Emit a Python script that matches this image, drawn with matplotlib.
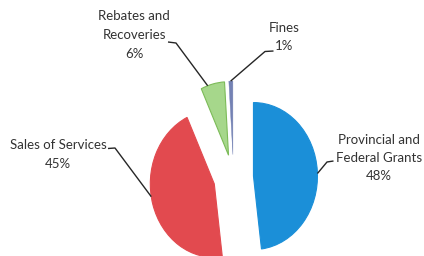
import matplotlib
matplotlib.use("Agg")
import matplotlib.pyplot as plt
import numpy as np

# data
labels = ["Provincial and\nFederal Grants\n48%", "Sales of Services\n45%",
          "Rebates and\nRecoveries\n6%", "Fines\n1%"]
shares = [48, 45, 6, 1]
colors = ["#1b8fd8", "#e24a4f", "#a6d78b", "#7482b4"]
edges = ["#1b8fd8", "#e24a4f", "#7cbb58", "#7482b4"]

# layout (pixel units of the 424x256 picture, y from the top)
W, H = 424, 256
cx, cy = 233.5, 177.5        # pie centre
rx, ry = 64.0, 73.5          # pixels per data unit
label_xy = [(379, 158), (58, 154.5), (134, 35), (284, 37)]
stubs = [[(333.5, 161), (327, 162)],
         [(108, 148.5), (115, 148)],
         [(168, 42), (176, 43)],
         [(273.5, 51), (265, 51.5)]]
anchor_ang = [2, 190, 109, 92]   # where each leader touches its wedge


def px(x, y):
    return (x - cx) / rx, (cy - y) / ry


fig = plt.figure(figsize=(W / 100, H / 100), dpi=100)
ax = fig.add_axes([0, 0, 1, 1])

wedges, _ = ax.pie(shares, colors=colors, startangle=90, counterclock=False,
                   explode=[0.3125] * 4, radius=1,
                   wedgeprops=dict(linewidth=0.8))
for w, ec in zip(wedges, edges):
    w.set_edgecolor(ec)
wedges[3].set_linewidth(0.3)

ax.set_aspect("auto")
ax.set_xlim(-cx / rx, (W - cx) / rx)
ax.set_ylim(-(H - cy) / ry, cy / ry)
ax.axis("off")

for w, lab, (tx, ty), st, ang in zip(wedges, labels, label_xy, stubs, anchor_ang):
    a = np.deg2rad(ang)
    ex, ey = w.center[0] + np.cos(a), w.center[1] + np.sin(a)
    pts = [px(*p) for p in st] + [(ex, ey)]
    ax.plot([p[0] for p in pts], [p[1] for p in pts], color="#262626", lw=1.0,
            solid_capstyle="butt")
    ax.text(*px(tx, ty), lab, ha="center", va="center", fontsize=9.5,
            family="Lato", color="#333333", linespacing=1.65)

fig.savefig("out.png", dpi=100, facecolor="white")
